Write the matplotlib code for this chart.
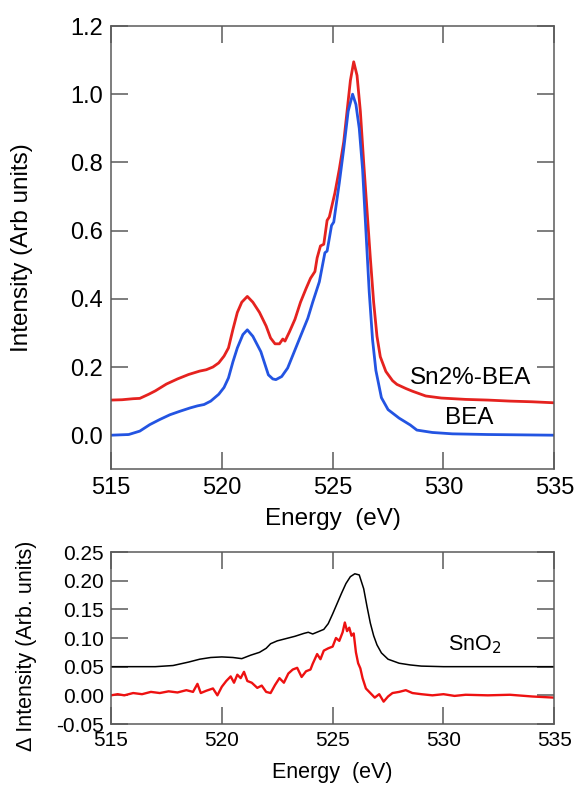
import matplotlib
matplotlib.use("Agg")
import matplotlib.pyplot as plt

plt.rcParams['font.family'] = ['Liberation Sans', 'DejaVu Sans']

# ---- Top panel data ----
bea_E = [515.0, 515.8, 516.3, 516.75, 517.2, 517.66, 518.1, 518.57, 518.9, 519.2, 519.5, 519.86,
         520.1, 520.3, 520.5, 520.7, 520.95, 521.15, 521.4, 521.76, 522.1, 522.3, 522.44, 522.7,
         522.97, 523.3, 523.58, 523.88, 524.1, 524.4, 524.65, 524.75, 524.95, 525.05, 525.3, 525.5,
         525.7, 525.9, 526.05, 526.2, 526.35, 526.5, 526.65, 526.8, 526.95, 527.2, 527.5, 528.0,
         528.5, 528.8, 529.5, 530.4, 532.0, 535.0]
bea_I = [0.0, 0.002, 0.012, 0.031, 0.046, 0.06, 0.07, 0.08, 0.086, 0.09, 0.1, 0.12,
         0.14, 0.168, 0.215, 0.256, 0.295, 0.309, 0.29, 0.245, 0.177, 0.165, 0.163, 0.172,
         0.197, 0.25, 0.295, 0.343, 0.39, 0.45, 0.535, 0.54, 0.615, 0.625, 0.74, 0.84,
         0.95, 1.0, 0.97, 0.90, 0.78, 0.60, 0.42, 0.28, 0.19, 0.11, 0.075, 0.05,
         0.03, 0.015, 0.008, 0.004, 0.002, 0.0]

sn_E = [515.0, 515.5, 516.0, 516.3, 516.7, 517.0, 517.5, 518.0, 518.5, 519.0, 519.3, 519.6,
        519.86, 520.1, 520.3, 520.5, 520.7, 520.9, 521.15, 521.4, 521.7, 522.0, 522.2, 522.4,
        522.6, 522.75, 522.85, 523.05, 523.3, 523.55, 523.8, 524.0, 524.2, 524.3, 524.45, 524.6,
        524.75, 524.85, 525.1, 525.3, 525.5, 525.65, 525.8, 525.95, 526.1, 526.25, 526.4, 526.55,
        526.7, 526.85, 527.0, 527.15, 527.4, 527.7, 527.9, 528.3, 528.6, 529.2, 529.9, 531.0,
        532.0, 533.0, 534.0, 535.0]
sn_I = [0.103, 0.104, 0.107, 0.108, 0.12, 0.13, 0.15, 0.165, 0.178, 0.188, 0.192, 0.2,
        0.212, 0.232, 0.256, 0.31, 0.36, 0.39, 0.407, 0.39, 0.36, 0.32, 0.285, 0.268,
        0.268, 0.282, 0.276, 0.303, 0.34, 0.39, 0.43, 0.46, 0.48, 0.52, 0.555, 0.56,
        0.63, 0.64, 0.71, 0.78, 0.86, 0.95, 1.04, 1.095, 1.055, 0.95, 0.80, 0.66,
        0.52, 0.39, 0.29, 0.23, 0.187, 0.16, 0.149, 0.137, 0.129, 0.115, 0.109, 0.105,
        0.103, 0.10, 0.098, 0.095]

# ---- Bottom panel data ----
sno2_E = [515.0, 516.0, 517.0, 517.8, 518.5, 519.0, 519.5, 520.0, 520.5, 520.9, 521.3, 521.7,
          522.0, 522.2, 522.5, 523.0, 523.3, 523.7, 523.9, 524.1, 524.6, 524.8, 525.0, 525.2,
          525.4, 525.6, 525.8, 526.0, 526.2, 526.4, 526.55, 526.7, 526.85, 527.0, 527.2, 527.5,
          528.0, 528.5, 529.0, 530.0, 535.0]
sno2_I = [0.05, 0.05, 0.05, 0.052, 0.058, 0.063, 0.066, 0.067, 0.066, 0.064, 0.07, 0.075,
          0.082, 0.09, 0.095, 0.1, 0.103, 0.108, 0.11, 0.107, 0.115, 0.125, 0.142, 0.16,
          0.178, 0.195, 0.207, 0.212, 0.21, 0.186, 0.155, 0.126, 0.104, 0.088, 0.074, 0.063,
          0.056, 0.053, 0.051, 0.05, 0.05]

diff_E = [515.0, 515.3, 515.6, 516.0, 516.4, 516.8, 517.2, 517.6, 518.0, 518.4, 518.7, 518.9,
          519.05, 519.3, 519.6, 519.8, 520.0, 520.2, 520.4, 520.55, 520.7, 520.85, 521.0, 521.15,
          521.35, 521.6, 521.8, 522.0, 522.2, 522.4, 522.6, 522.8, 523.0, 523.2, 523.4, 523.6,
          523.8, 524.0, 524.1, 524.3, 524.45, 524.6, 524.8, 525.0, 525.15, 525.3, 525.45, 525.55,
          525.65, 525.75, 525.85, 525.95, 526.05, 526.15, 526.25, 526.35, 526.5, 526.7, 526.9,
          527.1, 527.3, 527.5, 527.7, 528.0, 528.3, 528.6, 529.0, 529.5, 530.0, 530.5, 531.0,
          532.0, 533.0, 534.0, 535.0]
diff_I = [0.0, 0.002, 0.0, 0.004, 0.002, 0.006, 0.004, 0.007, 0.005, 0.009, 0.006, 0.02,
          0.004, 0.008, 0.012, 0.0, 0.015, 0.025, 0.033, 0.022, 0.036, 0.03, 0.041, 0.025,
          0.022, 0.013, 0.017, 0.006, 0.004, 0.018, 0.03, 0.022, 0.038, 0.045, 0.048, 0.032,
          0.042, 0.045, 0.055, 0.072, 0.063, 0.078, 0.082, 0.085, 0.1, 0.095, 0.11, 0.127,
          0.112, 0.118, 0.104, 0.108, 0.075, 0.056, 0.047, 0.03, 0.012, 0.004, -0.004,
          0.002, -0.011, -0.002, 0.004, 0.006, 0.009, 0.004, 0.002, 0.0, 0.002, -0.001, 0.001,
          0.0, 0.001, -0.002, -0.004]

x_ticks = [515, 520, 525, 530, 535]
top_yticks = [0.0, 0.2, 0.4, 0.6, 0.8, 1.0, 1.2]
bot_yticks = [-0.05, 0.00, 0.05, 0.10, 0.15, 0.20, 0.25]

W, H = 578, 785
fig = plt.figure(figsize=(W / 100, H / 100), dpi=100)

spine_c = '#5a5a5a'
red = '#e5221f'
blue = '#2354e2'

def style(ax, fs, ticklen, pad):
    for s in ax.spines.values():
        s.set_color(spine_c)
        s.set_linewidth(1.1)
    ax.tick_params(direction='in', top=True, right=True, length=ticklen, width=1.1,
                   color=spine_c, labelsize=fs, pad=pad)

# Top axes (pixels: x 111..554, y 26..469)
ax1 = fig.add_axes([111 / W, 1 - 469.3 / H, 443.3 / W, 443.3 / H])
ax1.plot(sn_E, sn_I, color=red, lw=2.0)
ax1.plot(bea_E, bea_I, color=blue, lw=2.0)
ax1.set_xlim(515, 535)
ax1.set_ylim(-0.1, 1.2)
ax1.set_xticks(x_ticks)
ax1.set_yticks(top_yticks)
ax1.set_yticklabels([f"{v:.1f}" for v in top_yticks])
style(ax1, 17, 12, 5.5)
ax1.set_xlabel('Energy  (eV)', fontsize=17.5, va='center')
ax1.xaxis.set_label_coords(0.5, (469.3 - 519) / 443.3)
ax1.set_ylabel('Intensity (Arb units)', fontsize=17.5, va='center')
ax1.yaxis.set_label_coords((22 - 111) / 443.3, 0.5)
ax1.text(528.5, 0.167, 'Sn2%-BEA', fontsize=17.5, va='center', ha='left')
ax1.text(530.05, 0.05, 'BEA', fontsize=17.5, va='center', ha='left')

# Bottom axes (pixels: x 111..554, y 552..724)
ax2 = fig.add_axes([111 / W, 1 - 724 / H, 443.3 / W, 172 / H])
ax2.plot(sno2_E, sno2_I, color='black', lw=1.1)
ax2.plot(diff_E, diff_I, color='#ee1111', lw=1.7)
ax2.set_xlim(515, 535)
ax2.set_ylim(-0.05, 0.25)
ax2.set_xticks(x_ticks)
ax2.set_yticks(bot_yticks)
ax2.set_yticklabels([f"{v:.2f}" for v in bot_yticks])
style(ax2, 15, 12, 5)
ax2.set_xlabel('Energy  (eV)', fontsize=15.5, va='center')
ax2.xaxis.set_label_coords(0.5, (724 - 772.5) / 172)
ax2.set_ylabel('\u0394 Intensity (Arb. units)', fontsize=15.5, va='center')
ax2.yaxis.set_label_coords((27 - 111) / 443.3, (724 - 646) / 172)
ax2.text(530.2, 0.088, 'SnO$_2$', fontsize=15.5, va='center', ha='left')

fig.savefig('out.png', dpi=100)
